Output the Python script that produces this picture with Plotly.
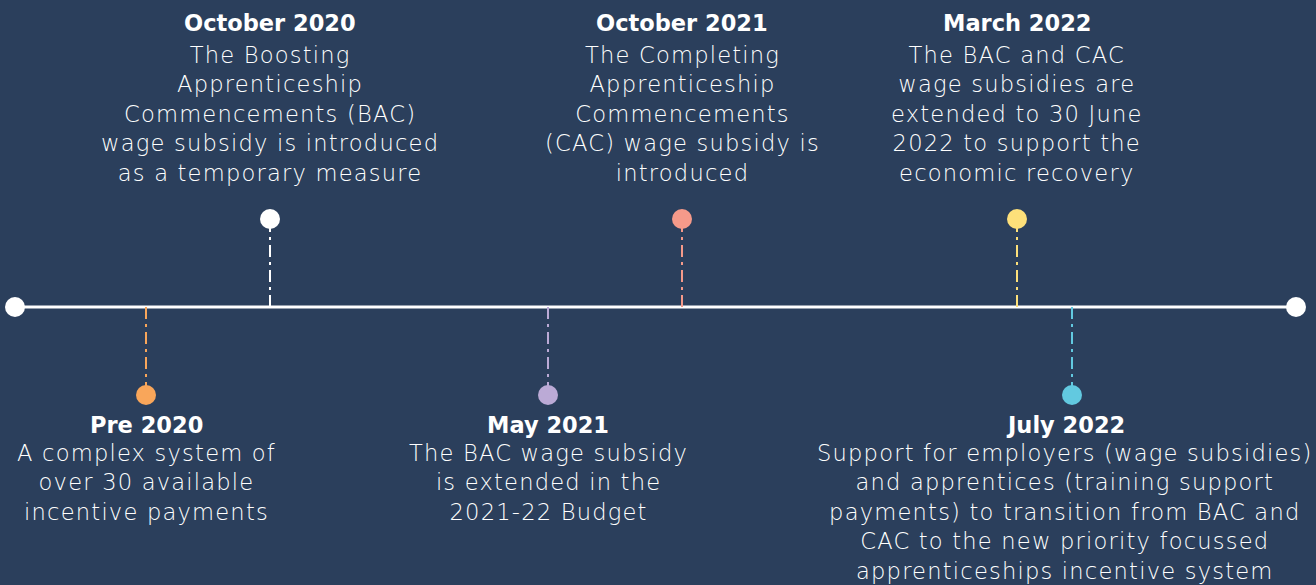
import plotly.graph_objects as go

# ---- data ----
event_dates = ["Pre 2020", "October 2020", "May 2021", "October 2021", "March 2022", "July 2022"]
event_pos = [146, 270, 548, 682, 1017, 1072]          # position along the timeline
event_side = [-1, 1, -1, 1, 1, -1]                    # 1 = above, -1 = below
event_lines = [
    ["A complex system of", "over 30 available", "incentive payments"],
    ["The Boosting", "Apprenticeship", "Commencements (BAC)",
     "wage subsidy is introduced", "as a temporary measure"],
    ["The BAC wage subsidy", "is extended in the", "2021-22 Budget"],
    ["The Completing", "Apprenticeship", "Commencements",
     "(CAC) wage subsidy is", "introduced"],
    ["The BAC and CAC", "wage subsidies are", "extended to 30 June",
     "2022 to support the", "economic recovery"],
    ["Support for employers (wage subsidies)", "and apprentices (training support",
     "payments) to transition from BAC and", "CAC to the new priority focussed",
     "apprenticeships incentive system"],
]
event_colors = ["#F9A65A", "#FFFFFF", "#BBAAD6", "#F59A8A", "#FDE07A", "#62C9E0"]
timeline_start, timeline_end = 15, 1296

BG = "#2B3F5C"
W, H = 1316, 585
px_per_unit = 88.0
y_top = 307 / px_per_unit
y_bot = -(H - 307) / px_per_unit

fig = go.Figure()

fig.add_trace(go.Scatter(
    x=[timeline_start, timeline_end], y=[0, 0], mode="lines+markers",
    line=dict(color="white", width=3),
    marker=dict(size=20, color="white"),
    hoverinfo="skip", showlegend=False))

for x, s, c in zip(event_pos, event_side, event_colors):
    fig.add_trace(go.Scatter(
        x=[x, x], y=[0, s * 0.9], mode="lines",
        line=dict(color=c, width=2, dash="12px,5px,3px,5px"),
        hoverinfo="skip", showlegend=False))
    fig.add_trace(go.Scatter(
        x=[x], y=[s], mode="markers",
        marker=dict(size=20, color=c),
        hoverinfo="skip", showlegend=False))

FONT = "DejaVu Sans"
BODY_SIZE = 22.6
TITLE_SIZE = 22.5
LINE_PX = 1.3 * BODY_SIZE
SPACING = "letter-spacing:1.2px"
for i, (d, x, s, lines) in enumerate(zip(event_dates, event_pos, event_side, event_lines)):
    xshift = -7 if i == 5 else 0
    if s > 0:
        title_px, body_px = 23, 55
    else:
        title_px, body_px = 425, 453
    fig.add_annotation(
        x=x, y=(307 - title_px) / px_per_unit, text="<b>" + d + "</b>",
        showarrow=False, xanchor="center", yanchor="middle", xshift=xshift,
        font=dict(family=FONT, size=TITLE_SIZE, color="white", weight=800))
    mid_px = body_px + (len(lines) - 1) * LINE_PX / 2
    body = "<br>".join('<span style="%s">%s</span>' % (SPACING, ln) for ln in lines)
    fig.add_annotation(
        x=x, y=(307 - mid_px) / px_per_unit, text=body,
        showarrow=False, xanchor="center", yanchor="middle", align="center",
        xshift=xshift, borderpad=0,
        font=dict(family=FONT, size=BODY_SIZE, color="white", weight=200))

fig.update_layout(
    width=W, height=H,
    margin=dict(l=0, r=0, t=0, b=0),
    paper_bgcolor=BG, plot_bgcolor=BG,
    xaxis=dict(range=[0, W], visible=False, fixedrange=True),
    yaxis=dict(range=[y_bot, y_top], visible=False, fixedrange=True),
    showlegend=False,
)

fig.write_html("out.html", config={"displayModeBar": False},
               post_script="document.body.style.margin='0';document.body.style.background='" + BG + "';")
